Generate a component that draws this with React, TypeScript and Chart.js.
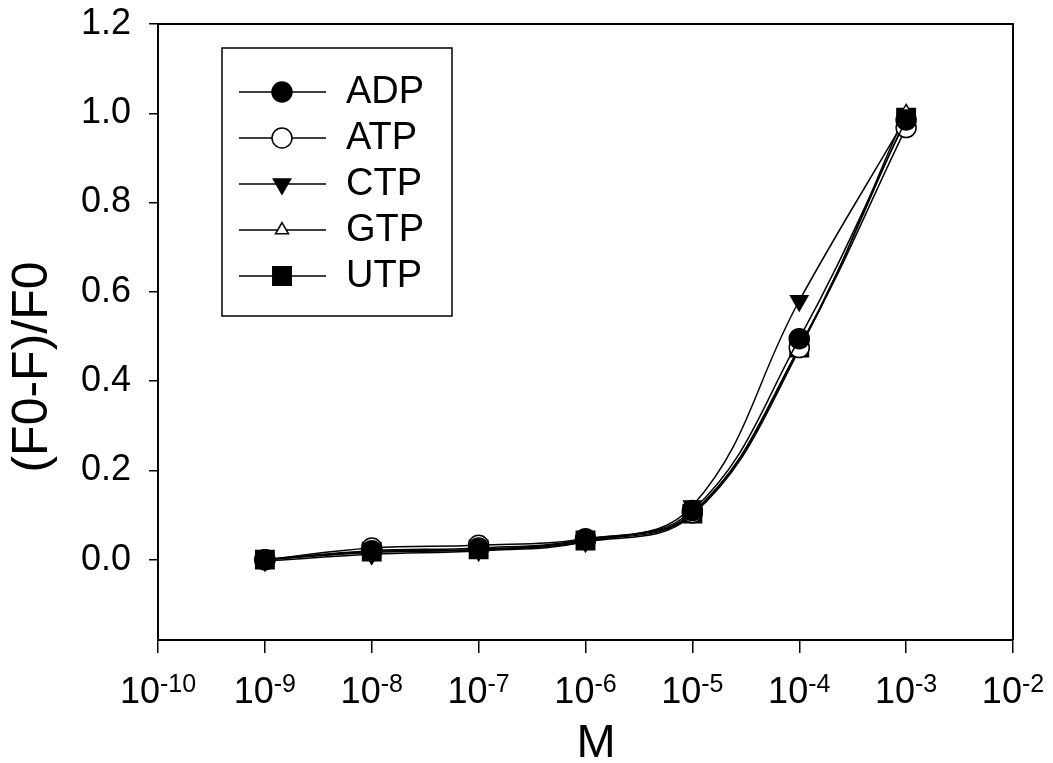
import React, { useEffect, useRef } from 'react';
import { Chart, registerables } from 'chart.js';
import { drawPoint } from 'chart.js/helpers';

Chart.register(...registerables);

const concentrations = [1e-9, 1e-8, 1e-7, 1e-6, 1e-5, 1e-4, 1e-3];
const adpValues = [0.0, 0.02, 0.026, 0.045, 0.11, 0.495, 0.985];
const atpValues = [0.0, 0.026, 0.032, 0.047, 0.105, 0.475, 0.968];
const ctpValues = [-0.003, 0.012, 0.02, 0.04, 0.12, 0.58, 0.99];
const gtpValues = [0.0, 0.016, 0.022, 0.04, 0.1, 0.47, 1.003];
const utpValues = [0.0, 0.018, 0.023, 0.043, 0.103, 0.475, 0.99];
const seriesLabels = ['ADP', 'ATP', 'CTP', 'GTP', 'UTP'];
const xTickExponents = [-10, -9, -8, -7, -6, -5, -4, -3, -2];
const yTickValues = [0, 0.2, 0.4, 0.6, 0.8, 1.0, 1.2];
const xTitle = 'M';
const yTitle = '(F0-F)/F0';

const FONT = '"Liberation Sans", Arial, Helvetica, sans-serif';

const markerStyles = [
  { pointStyle: 'circle', radius: 10, rotation: 0, fill: '#000000' },
  { pointStyle: 'circle', radius: 10, rotation: 0, fill: '#ffffff' },
  { pointStyle: 'triangle', radius: 10, rotation: 180, fill: '#000000' },
  { pointStyle: 'triangle', radius: 7.5, rotation: 0, fill: '#ffffff' },
  { pointStyle: 'rect', radius: 13, rotation: 0, fill: '#000000' },
];

const textPlugin = {
  id: 'customText',
  afterDraw(chart: any) {
    const ctx = chart.ctx;
    const area = chart.chartArea;
    const xs = chart.scales.x;
    ctx.save();
    // frame top & right
    ctx.strokeStyle = '#000';
    ctx.lineWidth = 2;
    ctx.beginPath();
    ctx.moveTo(area.left, area.top);
    ctx.lineTo(area.right, area.top);
    ctx.lineTo(area.right, area.bottom);
    ctx.stroke();

    // x tick labels with superscripts
    ctx.fillStyle = '#000';
    ctx.textBaseline = 'alphabetic';
    ctx.textAlign = 'left';
    xTickExponents.forEach((e) => {
      const px = xs.getPixelForValue(Math.pow(10, e));
      ctx.font = `36px ${FONT}`;
      const base = '10';
      const wb = ctx.measureText(base).width;
      ctx.font = `25px ${FONT}`;
      const sup = String(e);
      const ws = ctx.measureText(sup).width;
      const left = px - (wb + ws) / 2;
      ctx.font = `36px ${FONT}`;
      ctx.fillText(base, left, 703);
      ctx.font = `25px ${FONT}`;
      ctx.fillText(sup, left + wb, 692);
    });

    // x title
    ctx.font = `47px ${FONT}`;
    ctx.textAlign = 'center';
    ctx.fillText(xTitle, 596, 757);

    // y title
    ctx.save();
    ctx.translate(47, 367);
    ctx.rotate(-Math.PI / 2);
    ctx.font = `50px ${FONT}`;
    ctx.textAlign = 'center';
    ctx.fillText(yTitle, 0, 0);
    ctx.restore();

    // legend
    const boxL = 222, boxT = 48, boxR = 452, boxB = 316;
    ctx.lineWidth = 1.5;
    ctx.strokeStyle = '#000';
    ctx.strokeRect(boxL, boxT, boxR - boxL, boxB - boxT);
    seriesLabels.forEach((lab, i) => {
      const y = 92 + i * 46;
      ctx.lineWidth = 1.5;
      ctx.beginPath();
      ctx.moveTo(239, y);
      ctx.lineTo(326, y);
      ctx.stroke();
      const m = markerStyles[i];
      ctx.fillStyle = m.fill;
      ctx.strokeStyle = '#000';
      ctx.lineWidth = 1.5;
      drawPoint(ctx, { pointStyle: m.pointStyle, radius: m.radius, rotation: m.rotation, borderWidth: 1.5 } as any, 282, y);
      ctx.fillStyle = '#000';
      ctx.font = `38px ${FONT}`;
      ctx.textAlign = 'left';
      ctx.textBaseline = 'middle';
      ctx.fillText(lab, 346, y + 1);
    });
    ctx.restore();
  },
};

export default function App() {
  const ref = useRef<HTMLCanvasElement | null>(null);
  useEffect(() => {
    if (!ref.current) return;
    const series = [adpValues, atpValues, ctpValues, gtpValues, utpValues];
    const datasets = series.map((vals, i) => ({
      label: seriesLabels[i],
      data: concentrations.map((x, j) => ({ x, y: vals[j] })),
      borderColor: '#000',
      borderWidth: 1.5,
      tension: 0.4,
      fill: false,
      pointStyle: markerStyles[i].pointStyle,
      pointRadius: markerStyles[i].radius,
      pointRotation: markerStyles[i].rotation,
      pointBackgroundColor: markerStyles[i].fill,
      pointBorderColor: '#000',
      pointBorderWidth: 1.5,
    }));
    const chart = new Chart(ref.current, {
      type: 'line',
      data: { datasets } as any,
      options: {
        animation: false,
        responsive: false,
        devicePixelRatio: 1,
        layout: { padding: { top: 24, right: 40, left: 0, bottom: 0 } },
        plugins: { legend: { display: false }, tooltip: { enabled: false } },
        scales: {
          x: {
            type: 'logarithmic',
            min: 1e-10,
            max: 1e-2,
            afterBuildTicks: (s: any) => {
              s.ticks = xTickExponents.map((e) => ({ value: Math.pow(10, e) }));
            },
            afterFit: (s: any) => {
              s.height = 123;
              s.paddingLeft = 0;
              s.paddingRight = 0;
            },
            ticks: { display: false },
            grid: { drawOnChartArea: false, drawTicks: true, tickLength: 13, color: '#000', lineWidth: 1.5 },
            border: { display: true, color: '#000', width: 2 },
          },
          y: {
            type: 'linear',
            min: -0.18,
            max: 1.2,
            afterBuildTicks: (s: any) => {
              s.ticks = yTickValues.map((v) => ({ value: v }));
            },
            afterFit: (s: any) => {
              s.width = 158;
              s.paddingTop = 0;
              s.paddingBottom = 0;
            },
            ticks: {
              color: '#000',
              padding: 18,
              font: { size: 36, family: FONT },
              callback: (v: any) => Number(v).toFixed(1),
            },
            grid: { drawOnChartArea: false, drawTicks: true, tickLength: 9, color: '#000', lineWidth: 1.5 },
            border: { display: true, color: '#000', width: 2 },
          },
        },
      } as any,
      plugins: [textPlugin],
    });
    return () => chart.destroy();
  }, []);
  return (
    <div style={{ position: 'absolute', left: 0, top: 0, width: 1053, height: 763, background: '#fff' }}>
      <canvas ref={ref} width={1053} height={763} style={{ width: 1053, height: 763, display: 'block' }} />
    </div>
  );
}
